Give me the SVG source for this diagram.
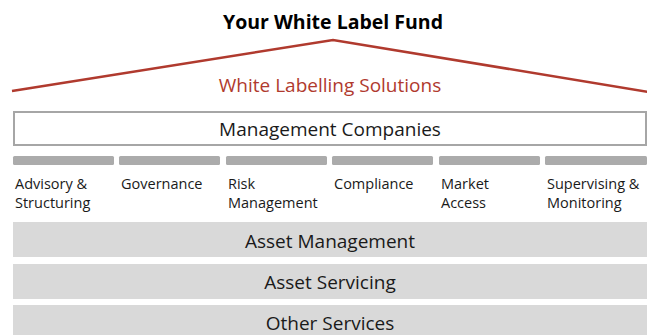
<svg xmlns="http://www.w3.org/2000/svg" width="647" height="335" viewBox="0 0 647 335">
<style>
text{font-family:"Open Sans","Noto Sans",sans-serif;fill:#1a1a1a}
.title{font-size:19.5px;font-weight:bold;fill:#000}
.red{fill:#b03a2e;font-size:19px}
.big{font-size:19px}
.lab{font-size:14.5px}
.bar{fill:#ababab}
.band{fill:#d9d9d9}
</style>
<rect width="647" height="335" fill="#fff"/>
<g id="title"><text class="title" x="333" y="29" text-anchor="middle">Your White Label Fund</text></g>
<g id="connectors"><polyline points="12,91 333,40 649,92" fill="none" stroke="#b03a2e" stroke-width="2.5"/></g>
<g id="wls"><text class="red" x="330" y="92" text-anchor="middle">White Labelling Solutions</text></g>
<g id="mgmt"><rect x="14" y="112" width="632" height="33" fill="#fff" stroke="#a6a6a6" stroke-width="2"/><text class="big" x="330" y="136" text-anchor="middle">Management Companies</text></g>
<g id="advisory"><rect class="bar" x="13" y="156" width="101" height="9" rx="1.5"/><text class="lab" x="15" y="189">Advisory &amp;</text><text class="lab" x="15" y="208">Structuring</text></g>
<g id="governance"><rect class="bar" x="119" y="156" width="101" height="9" rx="1.5"/><text class="lab" x="121" y="189">Governance</text></g>
<g id="risk"><rect class="bar" x="226" y="156" width="101" height="9" rx="1.5"/><text class="lab" x="228" y="189">Risk</text><text class="lab" x="228" y="208">Management</text></g>
<g id="compliance"><rect class="bar" x="332" y="156" width="101" height="9" rx="1.5"/><text class="lab" x="334" y="189">Compliance</text></g>
<g id="market"><rect class="bar" x="439" y="156" width="101" height="9" rx="1.5"/><text class="lab" x="441" y="189">Market</text><text class="lab" x="441" y="208">Access</text></g>
<g id="supervising"><rect class="bar" x="545" y="156" width="102" height="9" rx="1.5"/><text class="lab" x="547" y="189">Supervising &amp;</text><text class="lab" x="547" y="208">Monitoring</text></g>
<g id="assetmgmt"><rect class="band" x="13" y="222" width="634" height="35"/><text class="big" x="330" y="248" text-anchor="middle">Asset Management</text></g>
<g id="assetserv"><rect class="band" x="13" y="264" width="634" height="35"/><text class="big" x="330" y="289" text-anchor="middle">Asset Servicing</text></g>
<g id="other"><rect class="band" x="13" y="305" width="634" height="32"/><text class="big" x="330" y="330" text-anchor="middle">Other Services</text></g>
</svg>
